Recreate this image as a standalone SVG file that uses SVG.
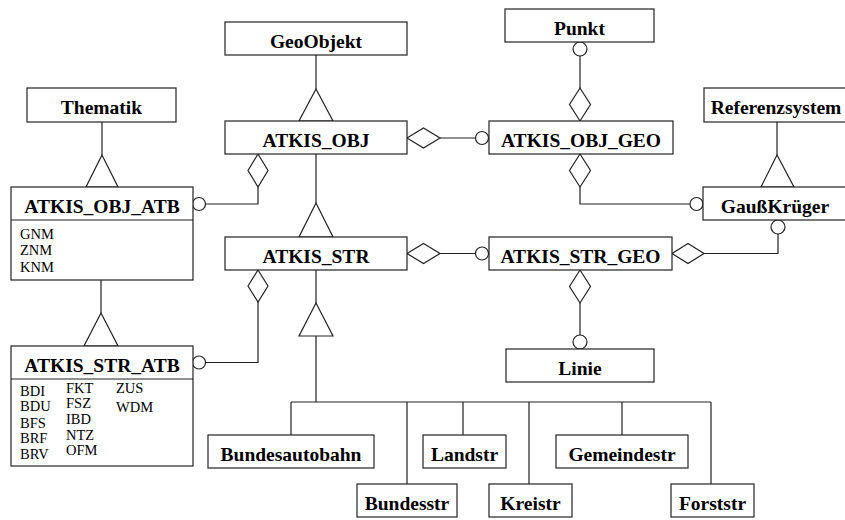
<svg xmlns="http://www.w3.org/2000/svg" width="845" height="520" viewBox="0 0 845 520">
  <style>
    .box { fill: #ffffff; stroke: #222222; stroke-width: 1.2; }
    .ttl { font-family: "Liberation Serif", "Times New Roman", serif; font-weight: bold; font-size: 19.5px; fill: #000000; text-anchor: middle; }
    .att { font-family: "Liberation Serif", "Times New Roman", serif; font-size: 14.5px; fill: #000000; }
    .ln { fill: none; stroke: #222222; stroke-width: 1.2; }
    .sym { fill: #ffffff; stroke: #222222; stroke-width: 1.2; }
  </style>
  <rect width="845" height="520" fill="#ffffff"/>

  <!-- connectors -->
  <g id="connectors">
    <!-- generalisation: GeoObjekt / ATKIS_OBJ -->
    <path class="ln" d="M316 55V89"/>
    <polygon class="sym" points="316,89 299,121 333,121"/>
    <!-- generalisation: Thematik / ATKIS_OBJ_ATB -->
    <path class="ln" d="M102 122V155"/>
    <polygon class="sym" points="102,155 86,187 118,187"/>
    <!-- generalisation: Referenzsystem / GaussKrueger -->
    <path class="ln" d="M777 122V155"/>
    <polygon class="sym" points="777,155 761,187 794,187"/>
    <!-- generalisation: ATKIS_OBJ / ATKIS_STR -->
    <path class="ln" d="M316 154V203"/>
    <polygon class="sym" points="316,203 299,237 333,237"/>
    <!-- generalisation: ATKIS_OBJ_ATB / ATKIS_STR_ATB -->
    <path class="ln" d="M101 280V313"/>
    <polygon class="sym" points="101,313 84,346 118,346"/>
    <!-- generalisation: ATKIS_STR / road classes -->
    <path class="ln" d="M316 270V303"/>
    <polygon class="sym" points="316,303 299,336 333,336"/>
    <path class="ln" d="M316 336V402M291 402H711M291 402V435M407 402V484M463 402V435M529 402V484M622 402V435M711 402V484"/>

    <!-- ATKIS_OBJ <> ATKIS_OBJ_GEO -->
    <path class="ln" d="M440 138H475.5"/>
    <polygon class="sym" points="407,138 423.5,128 440,138 423.5,148"/>
    <circle class="sym" cx="482" cy="138" r="6.5"/>
    <!-- ATKIS_OBJ_GEO <> Punkt -->
    <path class="ln" d="M580 56V88"/>
    <circle class="sym" cx="580" cy="49" r="7"/>
    <polygon class="sym" points="580,88 590.5,104.5 580,121 569.5,104.5"/>
    <!-- ATKIS_OBJ_GEO <> GaussKrueger -->
    <path class="ln" d="M580 187V204H690"/>
    <polygon class="sym" points="580,154 590.5,170.5 580,187 569.5,170.5"/>
    <circle class="sym" cx="696.5" cy="204" r="6.5"/>
    <!-- ATKIS_OBJ <> ATKIS_OBJ_ATB -->
    <path class="ln" d="M258 187V204H205.5"/>
    <polygon class="sym" points="258,154 268,170.5 258,187 248,170.5"/>
    <circle class="sym" cx="199" cy="204" r="6.5"/>
    <!-- ATKIS_STR <> ATKIS_STR_GEO -->
    <path class="ln" d="M440 253.5H475.5"/>
    <polygon class="sym" points="407,253.5 423.5,243.5 440,253.5 423.5,263.5"/>
    <circle class="sym" cx="482" cy="253.5" r="6.5"/>
    <!-- ATKIS_STR_GEO <> GaussKrueger -->
    <path class="ln" d="M704 253.5H778V234"/>
    <polygon class="sym" points="672,253.5 688,243.5 704,253.5 688,263.5"/>
    <circle class="sym" cx="778" cy="227" r="7"/>
    <!-- ATKIS_STR_GEO <> Linie -->
    <path class="ln" d="M580 303V335"/>
    <polygon class="sym" points="580,270 590.5,286.5 580,303 569.5,286.5"/>
    <circle class="sym" cx="580" cy="342" r="7"/>
    <!-- ATKIS_STR <> ATKIS_STR_ATB -->
    <path class="ln" d="M258 302V362.5H205.5"/>
    <polygon class="sym" points="258,270 268,286 258,302 248,286"/>
    <circle class="sym" cx="199" cy="362.5" r="6.5"/>
  </g>

  <!-- classes -->
  <g id="GeoObjekt">
    <rect class="box" x="225" y="22" width="182" height="33"/>
    <text class="ttl" x="316" y="48">GeoObjekt</text>
  </g>
  <g id="Punkt">
    <rect class="box" x="505" y="9" width="149" height="33"/>
    <text class="ttl" x="579.5" y="35">Punkt</text>
  </g>
  <g id="Thematik">
    <rect class="box" x="27" y="88" width="149" height="34"/>
    <text class="ttl" x="101.5" y="114">Thematik</text>
  </g>
  <g id="Referenzsystem">
    <rect class="box" x="704" y="88" width="143" height="34"/>
    <text class="ttl" x="776" y="114">Referenzsystem</text>
  </g>
  <g id="ATKIS_OBJ">
    <rect class="box" x="225" y="121" width="182" height="33"/>
    <text class="ttl" x="316" y="147">ATKIS_OBJ</text>
  </g>
  <g id="ATKIS_OBJ_GEO">
    <rect class="box" x="489" y="121" width="184" height="33"/>
    <text class="ttl" x="581" y="147">ATKIS_OBJ_GEO</text>
  </g>
  <g id="ATKIS_OBJ_ATB">
    <rect class="box" x="11" y="187" width="182" height="93"/>
    <path class="ln" d="M11 220H193"/>
    <text class="ttl" x="102" y="213">ATKIS_OBJ_ATB</text>
    <text class="att" x="20" y="239">GNM</text>
    <text class="att" x="20" y="255">ZNM</text>
    <text class="att" x="20" y="272">KNM</text>
  </g>
  <g id="GaussKrueger">
    <rect class="box" x="703" y="187" width="144" height="33"/>
    <text class="ttl" x="775" y="213">GaußKrüger</text>
  </g>
  <g id="ATKIS_STR">
    <rect class="box" x="225" y="237" width="182" height="33"/>
    <text class="ttl" x="316" y="263">ATKIS_STR</text>
  </g>
  <g id="ATKIS_STR_GEO">
    <rect class="box" x="489" y="237" width="183" height="33"/>
    <text class="ttl" x="580.5" y="263">ATKIS_STR_GEO</text>
  </g>
  <g id="ATKIS_STR_ATB">
    <rect class="box" x="11" y="346" width="182" height="120"/>
    <path class="ln" d="M11 379H193"/>
    <text class="ttl" x="102" y="372">ATKIS_STR_ATB</text>
    <text class="att" x="20" y="396">BDI</text>
    <text class="att" x="20" y="411">BDU</text>
    <text class="att" x="20" y="428">BFS</text>
    <text class="att" x="20" y="443">BRF</text>
    <text class="att" x="20" y="459">BRV</text>
    <text class="att" x="66" y="393">FKT</text>
    <text class="att" x="66" y="408">FSZ</text>
    <text class="att" x="66" y="424">IBD</text>
    <text class="att" x="66" y="440">NTZ</text>
    <text class="att" x="66" y="455">OFM</text>
    <text class="att" x="116" y="393">ZUS</text>
    <text class="att" x="116" y="412">WDM</text>
  </g>
  <g id="Linie">
    <rect class="box" x="506" y="349" width="148" height="33"/>
    <text class="ttl" x="580" y="375">Linie</text>
  </g>
  <g id="Bundesautobahn">
    <rect class="box" x="208" y="435" width="166" height="33"/>
    <text class="ttl" x="291" y="461">Bundesautobahn</text>
  </g>
  <g id="Landstr">
    <rect class="box" x="423" y="435" width="83" height="33"/>
    <text class="ttl" x="464.5" y="461">Landstr</text>
  </g>
  <g id="Gemeindestr">
    <rect class="box" x="556" y="435" width="132" height="33"/>
    <text class="ttl" x="622" y="461">Gemeindestr</text>
  </g>
  <g id="Bundesstr">
    <rect class="box" x="357" y="484" width="100" height="33"/>
    <text class="ttl" x="407" y="510">Bundesstr</text>
  </g>
  <g id="Kreistr">
    <rect class="box" x="489" y="484" width="83" height="33"/>
    <text class="ttl" x="530.5" y="510">Kreistr</text>
  </g>
  <g id="Forststr">
    <rect class="box" x="671" y="484" width="83" height="33"/>
    <text class="ttl" x="712.5" y="510">Forststr</text>
  </g>
</svg>
